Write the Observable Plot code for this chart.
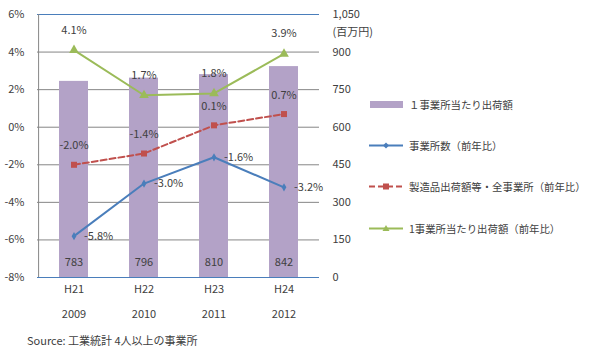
<!DOCTYPE html>
<html><head><meta charset="utf-8">
<script src="https://cdn.jsdelivr.net/npm/d3@7"></script>
<script src="https://cdn.jsdelivr.net/npm/@observablehq/plot@0.6"></script>
<style>
body{margin:0;background:#fff;font-family:"Noto Sans CJK JP","DejaVu Sans",sans-serif;}
#wrap{position:relative;width:595px;height:357px;}
.lg{position:absolute;left:369px;font-size:10.4px;color:#404040;display:flex;align-items:center;white-space:nowrap;}
.lg svg{margin-right:5px;}
#src{position:absolute;left:27px;top:332px;font-size:11px;color:#404040;}
</style></head>
<body><div id="wrap"></div>
<script>
const wareki = ["H21","H22","H23","H24"];
const years = ["2009","2010","2011","2012"];
const perEstablishment = [783, 796, 810, 842];           // 百万円
const establishmentsYoY = [-5.8, -3.0, -1.6, -3.2];       // %
const shipmentsAllYoY = [-2.0, -1.4, 0.1, 0.7];           // %
const perEstablishmentYoY = [4.1, 1.7, 1.8, 3.9];         // %
const leftTicks = [-8,-6,-4,-2,0,2,4,6];
const rightTicks = [0,150,300,450,600,750,900,1050];

const cats = wareki;
const yearOf = Object.fromEntries(wareki.map((w,i)=>[w, years[i]]));
const toPct = v => v*14/1050 - 8;
const bars = cats.map((c,i)=>({c, v: perEstablishment[i]}));
const blue = cats.map((c,i)=>({c, v: establishmentsYoY[i]}));
const red = cats.map((c,i)=>({c, v: shipmentsAllYoY[i]}));
const green = cats.map((c,i)=>({c, v: perEstablishmentYoY[i]}));
const fmt = v => v.toFixed(1)+"%";
const C = {bar:"#b3a2c7", blue:"#4a7ebb", red:"#c0504d", green:"#9bbb59", text:"#404040", grid:"#868686"};

const chart = Plot.plot({
  width:595, height:330,
  marginLeft:37, marginRight:276, marginTop:14, marginBottom:53,
  style:{fontFamily:'"Noto Sans CJK JP","DejaVu Sans",sans-serif', fontSize:"11px", color:C.text},
  x:{type:"band", domain:cats, paddingInner:0.59, paddingOuter:0.295},
  y:{domain:[-8,6]},
  marks:[
    Plot.ruleY(leftTicks.filter(t=>t>-8 && t<6), {stroke:C.grid, strokeWidth:1}),
    Plot.barY(bars, {x:"c", y1:-8, y2:d=>toPct(d.v), fill:C.bar}),
    Plot.ruleY([6,-8], {stroke:C.blue, strokeWidth:1.2}),
    Plot.ruleX([0], {x:()=>cats[0], dx:-35.4, y1:-8, y2:6, stroke:C.grid}),
    Plot.axisY({ticks:leftTicks, tickSize:0, tickPadding:13, tickFormat:d=>d+"%", label:null, fill:C.text}),
    Plot.axisY({anchor:"right", ticks:rightTicks.map(toPct), tickSize:0, tickPadding:13,
      tickFormat:d=>d3.format(",")(Math.round((d+8)*1050/14)), label:null, fill:C.text}),
    Plot.text(["(百万円)"], {frameAnchor:"top-right", dx:13, dy:17.5, lineAnchor:"middle", textAnchor:"start", fill:C.text}),
    Plot.axisX({tickSize:0, tickPadding:8, label:null, fill:C.text}),
    Plot.axisX({tickSize:0, tickPadding:33, label:null, fill:C.text, tickFormat:d=>yearOf[d]}),
    Plot.text(bars, {x:"c", y:-7.2, text:d=>String(d.v), fill:C.text}),
    Plot.line(blue, {x:"c", y:"v", stroke:C.blue, strokeWidth:2}),
    Plot.dot(blue, {x:"c", y:"v", symbol:"diamond", r:2.5, fill:C.blue}),
    Plot.line(red, {x:"c", y:"v", stroke:C.red, strokeWidth:2, strokeDasharray:"6,3"}),
    Plot.dot(red, {x:"c", y:"v", symbol:"square", r:3.4, fill:C.red}),
    Plot.line(green, {x:"c", y:"v", stroke:C.green, strokeWidth:2}),
    Plot.dot(green, {x:"c", y:"v", symbol:"triangle", r:3.6, fill:C.green}),
    Plot.text(green, {x:"c", y:"v", text:d=>fmt(d.v), dy:-20, fill:C.text}),
    Plot.text(red, {x:"c", y:"v", text:d=>fmt(d.v), dy:-19, fill:C.text}),
    Plot.text(blue, {x:"c", y:"v", text:d=>fmt(d.v), dx:10, textAnchor:"start", fill:C.text})
  ]
});
const wrap = document.getElementById("wrap");
wrap.appendChild(chart);

const legend = [
  {y:105, label:"１事業所当たり出荷額", sw:`<rect x="1" y="3" width="33" height="7" fill="${C.bar}"/>`},
  {y:146, label:"事業所数（前年比）", sw:`<line x1="0" y1="6.5" x2="34" y2="6.5" stroke="${C.blue}" stroke-width="2"/><path d="M17 3.5 L20 6.5 L17 9.5 L14 6.5Z" fill="${C.blue}"/>`},
  {y:187, label:"製造品出荷額等・全事業所（前年比）", sw:`<line x1="0" y1="6.5" x2="34" y2="6.5" stroke="${C.red}" stroke-width="2" stroke-dasharray="6,3"/><rect x="14" y="3.5" width="6" height="6" fill="${C.red}"/>`},
  {y:229, label:"1事業所当たり出荷額（前年比）", sw:`<line x1="0" y1="6.5" x2="34" y2="6.5" stroke="${C.green}" stroke-width="2"/><path d="M17 3 L20.5 9 L13.5 9Z" fill="${C.green}"/>`}
];
for (const l of legend) {
  const d = document.createElement("div");
  d.className = "lg";
  d.style.top = (l.y - 8) + "px";
  d.innerHTML = `<svg width="35" height="13">${l.sw}</svg><span>${l.label}</span>`;
  wrap.appendChild(d);
}
const s = document.createElement("div");
s.id = "src"; s.textContent = "Source: 工業統計 4人以上の事業所";
wrap.appendChild(s);
</script></body></html>
